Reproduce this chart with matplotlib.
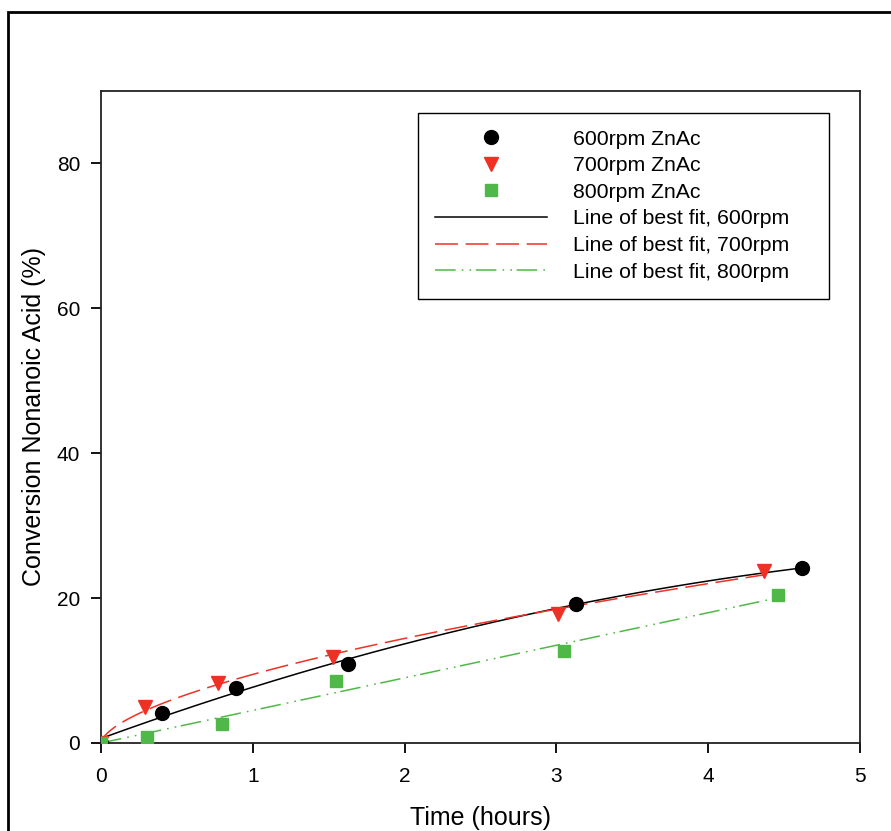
import numpy as np
import matplotlib
matplotlib.use("Agg")
import matplotlib.pyplot as plt
from matplotlib.patches import Rectangle

plt.rcParams['font.family'] = ['Liberation Sans', 'DejaVu Sans']

# measured conversion data
t_600 = [0, 0.40, 0.89, 1.63, 3.13, 4.62]
conv_600 = [0, 4.2, 7.6, 10.9, 19.2, 24.2]

t_700 = [0, 0.29, 0.77, 1.53, 3.01, 4.37]
conv_700 = [0, 5.0, 8.3, 11.9, 17.8, 23.8]

t_800 = [0, 0.30, 0.80, 1.55, 3.05, 4.46]
conv_800 = [0, 0.8, 2.6, 8.6, 12.7, 20.4]

xticks = [0, 1, 2, 3, 4, 5]
yticks = [0, 20, 40, 60, 80]

red = '#EE3124'
green = '#50B848'

# best fit curves
x6, y6 = np.array(t_600), np.array(conv_600)
p6 = np.polyfit(x6, y6, 2)
xf6 = np.linspace(0, x6.max(), 200)
yf6 = np.polyval(p6, xf6)

# power law y = a*x^b for 700 rpm, least squares on a grid of exponents
x7, y7 = np.array(t_700[1:]), np.array(conv_700[1:])
best = None
for b in np.linspace(0.3, 1.0, 701):
    a = np.sum(y7 * x7**b) / np.sum(x7**(2 * b))
    err = np.sum((y7 - a * x7**b) ** 2)
    if best is None or err < best[0]:
        best = (err, a, b)
_, a7, b7 = best
xf7 = np.linspace(0, x7.max(), 300)
yf7 = a7 * xf7**b7

# straight line through origin for 800 rpm
x8, y8 = np.array(t_800), np.array(conv_800)
k8 = np.sum(x8 * y8) / np.sum(x8**2)
xf8 = np.linspace(0, x8.max(), 200)
yf8 = k8 * xf8

fig = plt.figure(figsize=(8.91, 8.31), dpi=100)
ax = fig.add_axes([0.1134, 0.1059, 0.8519, 0.7846])

# outer frame around the whole figure
fig.patches.append(Rectangle((0.009, -0.05), 1.05, 1.036, transform=fig.transFigure,
                             fill=False, edgecolor='black', linewidth=2.0))

l6, = ax.plot(xf6, yf6, color='black', lw=1.1, zorder=2)
l7, = ax.plot(xf7, yf7, color=red, lw=1.1, dashes=(15, 5), zorder=2)
l8, = ax.plot(xf8, yf8, color=green, lw=1.1, dashes=(13.5, 4, 1.1, 4, 1.1, 3), zorder=2)

s6, = ax.plot(t_600, conv_600, 'o', color='black', ms=10, ls='none', zorder=3)
s7, = ax.plot(t_700, conv_700, 'v', color=red, mec=red, ms=10, ls='none', zorder=3)
s8, = ax.plot(t_800, conv_800, 's', color=green, mec=green, ms=9, ls='none', zorder=3)

ax.set_xlim(0, 5)
ax.set_ylim(0, 90)
ax.set_xticks(xticks)
ax.set_yticks(yticks)
ax.tick_params(direction='out', length=7, width=1.3, labelsize=15,
               top=False, right=False)
ax.tick_params(axis='x', pad=10)
ax.tick_params(axis='y', pad=8)
for sp in ax.spines.values():
    sp.set_linewidth(1.3)
    sp.set_color('#222222')

ax.set_xlabel('Time (hours)', fontsize=18, labelpad=15)
ax.set_ylabel('Conversion Nonanoic Acid (%)', fontsize=18, labelpad=8)

labels = ['600rpm ZnAc', '700rpm ZnAc', '800rpm ZnAc',
          'Line of best fit, 600rpm', 'Line of best fit, 700rpm',
          'Line of best fit, 800rpm']
# trailing blanks widen the legend box on the right
leg = ax.legend([s6, s7, s8, l6, l7, l8], [s + ' ' * 4 for s in labels],
                loc='upper left', bbox_to_anchor=(0.417, 0.967),
                fontsize=15.3, frameon=True, fancybox=False, framealpha=1,
                edgecolor='black', handlelength=5.3, handletextpad=1.2,
                labelspacing=0.36, borderpad=0.8, borderaxespad=0)
leg.get_frame().set_linewidth(1.0)

fig.savefig('out.png', dpi=100)
